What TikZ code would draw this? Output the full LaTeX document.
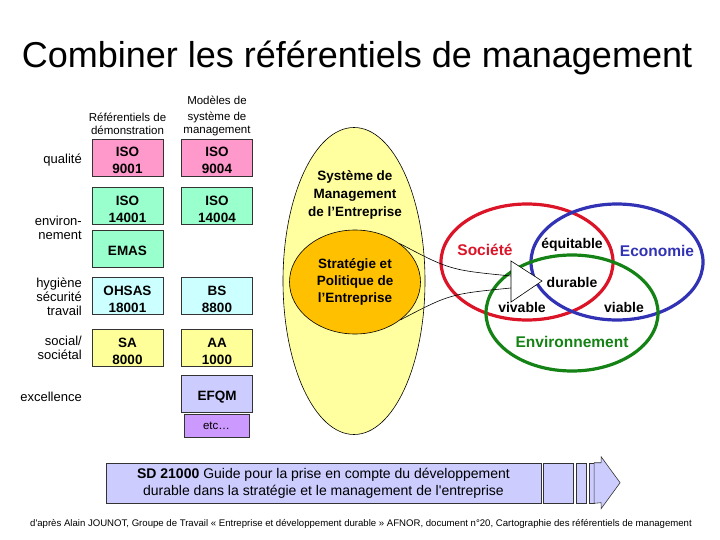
\documentclass[tikz,border=0pt]{standalone}
\usepackage{fontspec}
\setmainfont{Liberation Sans}
\usetikzlibrary{shapes.geometric,positioning}

\definecolor{isopink}{RGB}{255,153,204}
\definecolor{envmint}{RGB}{153,255,204}
\definecolor{hstcyan}{RGB}{204,255,255}
\definecolor{socyellow}{RGB}{255,255,153}
\definecolor{excblue}{RGB}{204,204,255}
\definecolor{etcpurple}{RGB}{204,153,255}
\definecolor{smeyellow}{RGB}{255,255,160}
\definecolor{speorange}{RGB}{255,192,0}
\definecolor{socred}{RGB}{220,20,40}
\definecolor{ecoblue}{RGB}{50,50,180}
\definecolor{envgreen}{RGB}{20,130,20}
\definecolor{sdblue}{RGB}{204,204,255}

\begin{document}
\begin{tikzpicture}[x=1pt,y=-1pt]
  \useasboundingbox (0,0) rectangle (720,540);
  \tikzset{
    refbox/.style={draw=black!80,line width=0.6pt,minimum width=71pt,minimum height=37pt,
      inner sep=0pt,align=center,text height=33pt,text depth=0pt,
      font=\fontsize{13.5}{17}\selectfont\bfseries},
    onerow/.style={text height=13.7pt},
    rowlabel/.style={anchor=east,align=right,inner sep=0pt,font=\fontsize{13}{14}\selectfont},
    colhead/.style={align=center,inner sep=0pt,font=\fontsize{11.5}{12.5}\selectfont},
    ring/.style={line width=3.2pt},
    pillar/.style={inner sep=0pt,font=\fontsize{15.5}{18}\selectfont\bfseries},
    quality/.style={inner sep=0pt,font=\fontsize{14}{16}\selectfont\bfseries},
    stepblock/.style={draw=black!80,line width=0.6pt,fill=sdblue,minimum height=40pt,inner sep=0pt}
  }
  \node[font=\fontsize{36}{40}\selectfont,anchor=base,inner sep=0pt] (title) at (357,67.5)
    {Combiner les référentiels de management};

  \node[colhead] (demo) at (127.5,124) {Référentiels de\\démonstration};
  \node[colhead] (modeles) at (217,115.5) {Modèles de\\[4pt]système de\\management};

  \node[rowlabel] (qualite) at (82,160) {qualité};
  \node[rowlabel] (envlabel) at (82,228) {environ-\\nement};
  \node[rowlabel] (hst) at (82,297) {hygiène\\sécurité\\travail};
  \node[rowlabel] (social) at (82,348) {social/\\sociétal};
  \node[rowlabel] (excellence) at (82,397) {excellence};

  \node[refbox,fill=isopink] (iso9001) at (127.5,157.5) {ISO\\9001};
  \node[refbox,fill=isopink] (iso9004) at (217,157.5) {ISO\\9004};
  \node[refbox,fill=envmint] (iso14001) at (127.5,206) {ISO\\14001};
  \node[refbox,fill=envmint] (iso14004) at (217,206) {ISO\\14004};
  \node[refbox,onerow,fill=envmint] (emas) at (127.5,248.5) {EMAS};
  \node[refbox,fill=hstcyan] (ohsas) at (127.5,295.5) {OHSAS\\18001};
  \node[refbox,fill=hstcyan] (bs8800) at (217,295.5) {BS\\8800};
  \node[refbox,fill=socyellow] (sa8000) at (127.5,347.5) {SA\\8000};
  \node[refbox,fill=socyellow] (aa1000) at (217,347.5) {AA\\1000};
  \node[refbox,onerow,fill=excblue] (efqm) at (217,393.5) {EFQM};
  \node[refbox,fill=etcpurple,minimum width=65pt,minimum height=23pt,text height=8.2pt,
        font=\fontsize{11.5}{12}\selectfont] (etc) at (216.5,425.5) {etc\dots};

  \node[ellipse,draw,line width=0.6pt,fill=smeyellow,minimum width=142pt,minimum height=307pt,
        inner sep=0pt] (sme) at (354,281) {};
  \node[align=center,inner sep=0pt,font=\fontsize{13.5}{18}\selectfont\bfseries] (smetext)
    at (355,194.5) {Système de\\Management\\de l’Entreprise};
  \node[ellipse,draw,line width=0.6pt,fill=speorange,minimum width=131pt,minimum height=104pt,
        inner sep=0pt,align=center,font=\fontsize{13.5}{17}\selectfont\bfseries] (spe)
    at (355,282) {Stratégie et\\Politique de\\l’Entreprise};

  \draw[ring,draw=socred] (527,262) ellipse [x radius=86pt,y radius=58pt];
  \draw[ring,draw=ecoblue] (617,262) ellipse [x radius=86pt,y radius=58pt];
  \draw[ring,draw=envgreen] (572,313) ellipse [x radius=86pt,y radius=58pt];

  \coordinate (tritop) at (511,261);
  \coordinate (tritip) at (542,281);
  \coordinate (tribot) at (511,302);
  \coordinate (trihi) at (511,276);
  \coordinate (trilo) at (511,288);
  \draw[line width=0.6pt] (spe.41) .. controls (450,270) .. (trihi);
  \draw[line width=0.6pt] (spe.-40) .. controls (450,294) .. (trilo);
  \draw[line width=0.6pt,fill=white] (tritop) -- (tritip) -- (tribot) -- cycle;

  \node[pillar,text=socred] (societe) at (485,250) {Société};
  \node[pillar,text=ecoblue] (economie) at (657,251) {Economie};
  \node[pillar,text=envgreen] (environnement) at (572,342) {Environnement};
  \node[quality] (equitable) at (572,245) {équitable};
  \node[quality] (durable) at (572,282) {durable};
  \node[quality] (vivable) at (522,307) {vivable};
  \node[quality] (viable) at (624,307) {viable};

  \node[stepblock,minimum width=435pt,align=center,font=\fontsize{14}{17}\selectfont] (sd)
    at (323.5,483) {\textbf{SD 21000} Guide pour la prise en compte du développement\\
    durable dans la stratégie et le management de l\textquotesingle entreprise};
  \node[stepblock,minimum width=30pt,right=2pt of sd] (blockA) {};
  \node[stepblock,minimum width=10pt,right=2pt of blockA] (blockB) {};
  \node[stepblock,minimum width=5pt,right=2pt of blockB] (blockC) {};
  \draw[line width=0.6pt,draw=black!80,fill=sdblue] (blockC.north east) -- ++(7,0) -- ++(0,-6)
    -- ++(19,26) -- ++(-19,26) -- ++(0,-6) -- (blockC.south east) -- cycle;

  \node[inner sep=0pt,font=\fontsize{9.6}{11}\selectfont] (source) at (361,524)
    {d\textquotesingle après Alain JOUNOT, Groupe de Travail « Entreprise et développement durable » AFNOR, document n°20, Cartographie des référentiels de management};
\end{tikzpicture}
\end{document}
